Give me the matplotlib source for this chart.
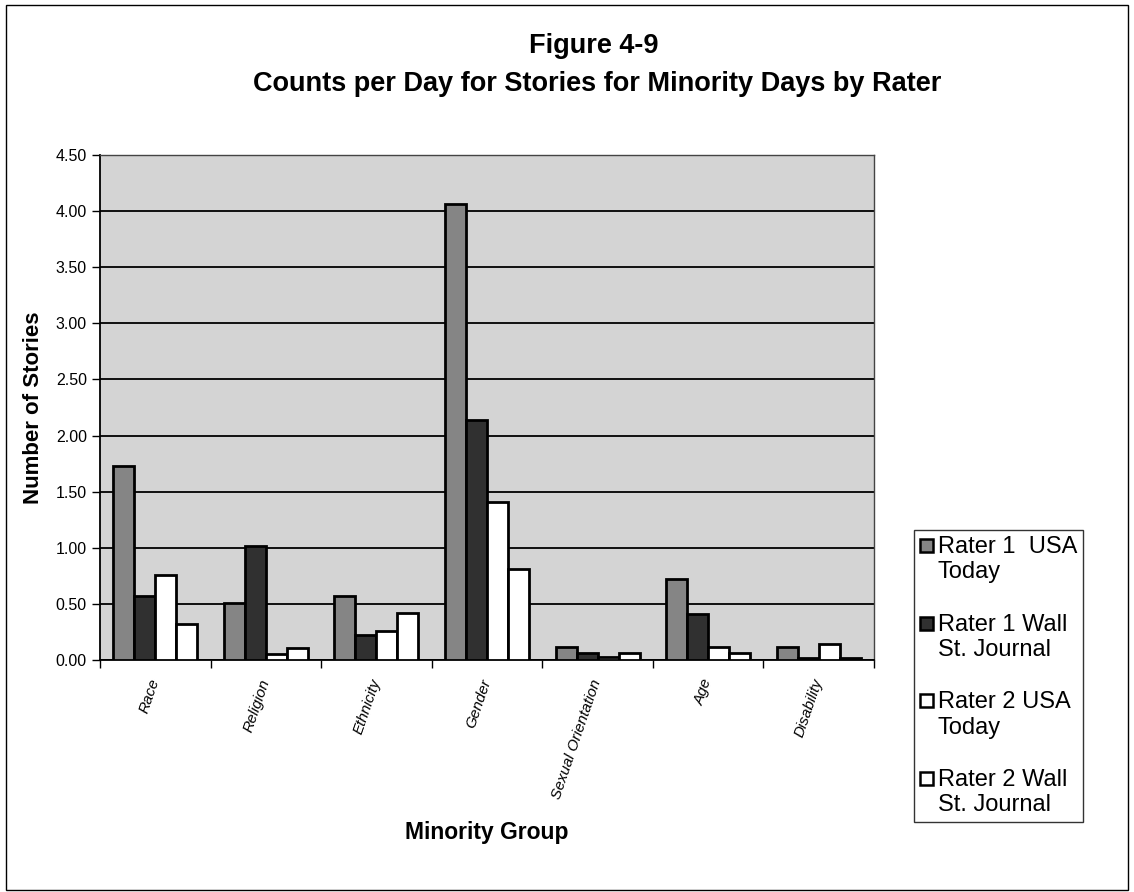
import numpy as np
import matplotlib
matplotlib.use("Agg")
import matplotlib.pyplot as plt
from matplotlib.patches import Rectangle
from matplotlib.legend_handler import HandlerPatch, update_from_first_child
from matplotlib.container import BarContainer

plt.rcParams['font.family'] = ['Liberation Sans', 'DejaVu Sans']

# datos
categorias = ['Race', 'Religion', 'Ethnicity', 'Gender', 'Sexual Orientation', 'Age', 'Disability']
series = ['Rater 1  USA\nToday', 'Rater 1 Wall\nSt. Journal', 'Rater 2 USA\nToday', 'Rater 2 Wall\nSt. Journal']
r1_usa = [1.73, 0.51, 0.57, 4.06, 0.12, 0.72, 0.12]
r1_wsj = [0.57, 1.02, 0.22, 2.14, 0.06, 0.41, 0.02]
r2_usa = [0.76, 0.05, 0.26, 1.41, 0.03, 0.12, 0.14]
r2_wsj = [0.32, 0.11, 0.42, 0.81, 0.06, 0.06, 0.02]
y_ticks = [0.0, 0.5, 1.0, 1.5, 2.0, 2.5, 3.0, 3.5, 4.0, 4.5]

colores = ['#858585', '#303030', 'white', 'white']

fig = plt.figure(figsize=(11.34, 8.92), dpi=100)
ax = fig.add_axes([100/1134, 1 - 660/892, 774/1134, 505/892])
ax.set_facecolor('#d4d4d4')

x = np.arange(len(categorias))
ancho = 0.19
valores = [r1_usa, r1_wsj, r2_usa, r2_wsj]
for i, (vals, lab) in enumerate(zip(valores, series)):
    ax.bar(x + (i - 1.5) * ancho, vals, ancho, color=colores[i], edgecolor='black',
           linewidth=2, label=lab, zorder=3)

ax.set_xlim(-0.5, len(categorias) - 0.5)
ax.set_ylim(0, 4.5)
ax.set_yticks(y_ticks)
ax.set_yticklabels([f'{v:.2f}' for v in y_ticks], fontsize=11.5)
ax.yaxis.grid(True, color='black', linewidth=1.3, zorder=1)
ax.set_axisbelow(True)

ax.set_xticks(x)
ax.set_xticklabels(categorias, rotation=71, ha='right', va='center',
                   rotation_mode='anchor', fontsize=11, style='italic')
ax.tick_params(axis='x', length=0, pad=14)
ax.set_xticks(np.arange(-0.5, len(categorias), 1.0), minor=True)
ax.tick_params(axis='x', which='minor', length=6, direction='out', width=1)
ax.tick_params(axis='y', length=6, direction='out', width=1)

for lado in ['top', 'right']:
    ax.spines[lado].set_color('#444444')
    ax.spines[lado].set_linewidth(1)
ax.spines['left'].set_linewidth(1.3)
ax.spines['bottom'].set_linewidth(1.3)

ax.set_ylabel('Number of Stories', fontsize=16, fontweight='bold')
ax.yaxis.set_label_coords(-0.072, 0.5)
fig.text(487/1134, 1 - 832/892, 'Minority Group', fontsize=16.5, fontweight='bold',
         ha='center', va='center')

fig.text(594/1134, 1 - 46/892, 'Figure 4-9', fontsize=19.5, fontweight='bold',
         ha='center', va='center')
fig.text(597/1134, 1 - 84/892, 'Counts per Day for Stories for Minority Days by Rater',
         fontsize=19.5, fontweight='bold', ha='center', va='center')


# cuadrito de la leyenda alineado con la primera linea
def cuadro_arriba(legend, orig_handle, xdescent, ydescent, width, height, fontsize):
    lado = 0.55 * fontsize
    return Rectangle((-xdescent, -ydescent + height / 2 - lado / 2 + 0.6 * fontsize),
                     lado, lado)


leg = ax.legend(loc='upper left', bbox_to_anchor=(914/1134, 1 - 530/892),
                bbox_transform=fig.transFigure, fontsize=17, frameon=True,
                fancybox=False, edgecolor='black', handlelength=0.6,
                handleheight=0.6, handletextpad=0.15, borderpad=0.25,
                labelspacing=1.28, borderaxespad=0,
                handler_map={BarContainer: HandlerPatch(patch_func=cuadro_arriba,
                                                        update_func=update_from_first_child)})
leg.get_frame().set_linewidth(1)
for h in leg.legend_handles:
    h.set_linewidth(1.8)

# marco exterior
fig.patches.append(Rectangle((6/1134, 1 - 890/892), 1122/1134, 885/892,
                             transform=fig.transFigure, fill=False,
                             edgecolor='black', linewidth=1))

fig.savefig('out.png', dpi=100, facecolor='white')
